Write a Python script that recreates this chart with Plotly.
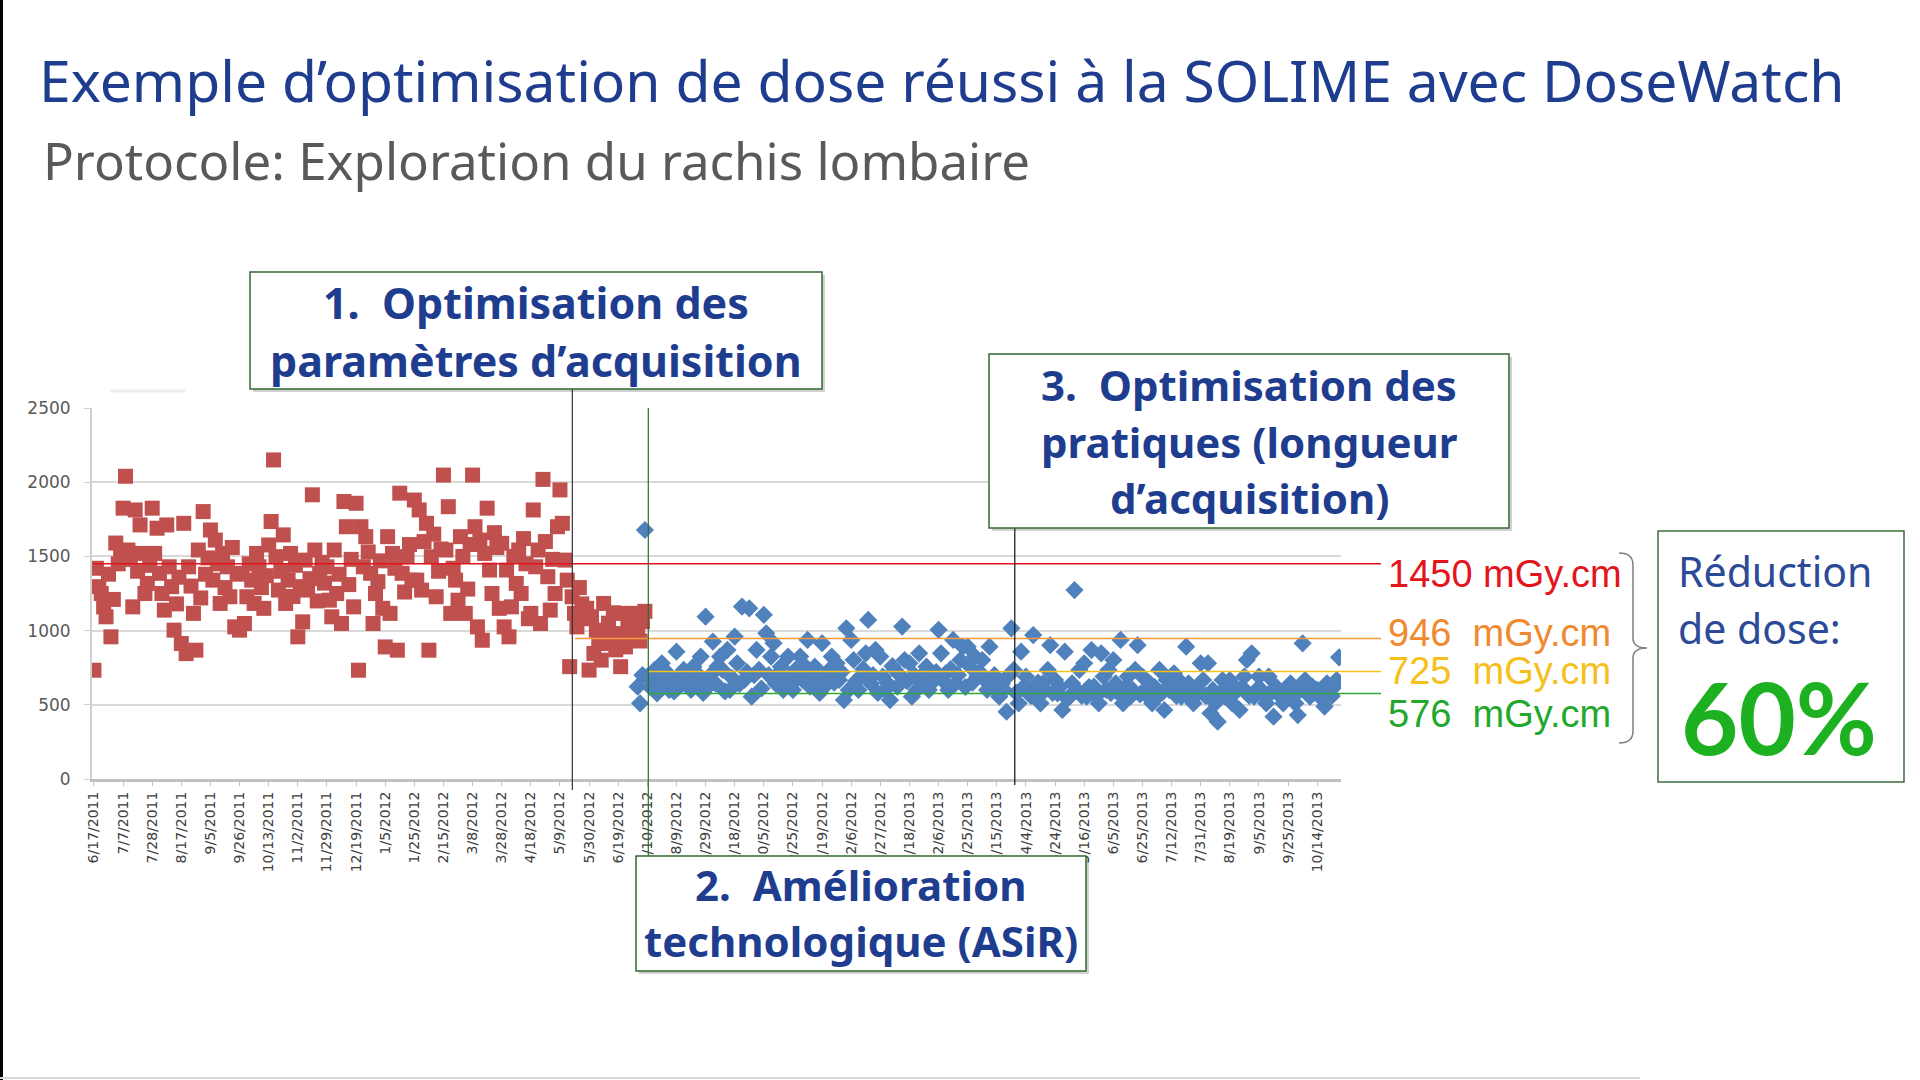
import plotly.graph_objects as go

# ---------------- data ----------------
tick_labels = ["6/17/2011", "7/7/2011", "7/28/2011", "8/17/2011", "9/5/2011", "9/26/2011",
               "10/13/2011", "11/2/2011", "11/29/2011", "12/19/2011", "1/5/2012", "1/25/2012",
               "2/15/2012", "3/8/2012", "3/28/2012", "4/18/2012", "5/9/2012", "5/30/2012",
               "6/19/2012", "7/10/2012", "8/9/2012", "8/29/2012", "9/18/2012", "10/5/2012",
               "10/25/2012", "11/19/2012", "12/6/2012", "12/27/2012", "1/18/2013", "2/6/2013",
               "2/25/2013", "3/15/2013", "4/4/2013", "4/24/2013", "5/16/2013", "6/5/2013",
               "6/25/2013", "7/12/2013", "7/31/2013", "8/19/2013", "9/5/2013", "9/25/2013",
               "10/14/2013"]
points_per_label = 12

# DLP before optimisation (mGy.cm), red squares
dlp_before = [
    733, 1420, 1296, 1250, 1160, 1093, 1380, 958, 1210, 1590, 1450, 1520,
    1825, 2040, 1543, 1480, 1160, 1813, 1400, 1712, 1520, 1250, 1318, 1440,
    1825, 1520, 1690, 1386, 1250, 1138, 1712, 1430, 1296, 1003, 1180, 1360,
    913, 1723, 845, 1430, 1300, 1116, 868, 1543, 1220, 1802, 1380, 1490,
    1678, 1340, 1610, 1450, 1183, 1520, 1290, 1430, 1228, 1560, 1025, 1380,
    1003, 1386, 1048, 1228, 1450, 1340, 1183, 1520, 1430, 1290, 1150, 1370,
    1577, 1735, 2150, 1498, 1273, 1400, 1645, 1183, 1340, 1520, 1230, 1440,
    958, 1296, 1059, 1475, 1273, 1350, 1915, 1543, 1200, 1386, 1460, 1320,
    1430, 1205, 1093, 1543, 1250, 1380, 1048, 1870, 1700, 1310, 1480, 1160,
    1858, 733, 1700, 1430, 1633, 1530, 1386, 1048, 1250, 1330, 1470, 1150,
    890, 1633, 1116, 1520, 1420, 868, 1926, 1386, 1260, 1498, 1580, 1340,
    1880, 1340, 1813, 1273, 1600, 1723, 868, 1498, 1650, 1228, 1400, 1550,
    2048, 1543, 1835, 1116, 1420, 1340, 1205, 1633, 1500, 1116, 1280, 1580,
    2048, 1700, 1025, 1610, 935, 1520, 1825, 1408, 1250, 1660, 1560, 1150,
    1588, 1025, 1408, 958, 1160, 1500, 1318, 1543, 1250, 1620, 1450, 1080,
    1116, 1813, 1430, 1543, 1048, 2019, 1600, 1363, 1138, 1480, 1250, 1700,
    1948, 1723, 1475, 1340, 757, 1228, 1116, 1025, 1290, 1180, 1080, 1150,
    734, 1093, 846, 1003, 935, 801, 1183, 913, 1050, 960, 1120, 870,
    980, 757, 1116, 890, 1048, 958, 1116, 1093, 1000, 930, 1060, 1130,
]
blue_start_index = 224
# DLP after optimisation (mGy.cm), blue diamonds
dlp_after = [
    622, 510, 700, 1678,
    690, 622, 700, 735, 577, 650, 780, 645, 720, 600, 667, 590,
    858, 622, 700, 735, 690, 640, 600, 757, 720, 667, 825, 580,
    1094, 622, 700, 926, 645, 760, 825, 735, 590, 870, 600, 680,
    960, 780, 640, 1162, 667, 720, 1150, 555, 700, 870, 735, 610,
    1106, 982, 700, 825, 915, 640, 712, 757, 600, 645, 825, 690,
    600, 735, 680, 825, 667, 760, 937, 622, 700, 757, 690, 580,
    915, 622, 700, 735, 825, 650, 780, 667, 720, 532, 1016, 600,
    937, 802, 660, 600, 690, 740, 847, 1072, 645, 700, 870, 580,
    825, 690, 600, 645, 532, 760, 735, 622, 700, 1027, 802, 660,
    780, 555, 700, 600, 847, 650, 712, 757, 600, 645, 667, 720,
    1005, 847, 660, 712, 600, 740, 937, 645, 700, 802, 892, 620,
    892, 757, 650, 825, 690, 720, 802, 667, 600, 892, 622, 700,
    667, 555, 640, 600, 453, 700, 1015, 735, 580, 510, 858, 620,
    690, 600, 560, 970, 555, 650, 510, 645, 600, 735, 902, 580,
    667, 577, 620, 465, 858, 540, 555, 645, 1273, 600, 735, 560,
    780, 555, 620, 869, 622, 560, 510, 847, 690, 600, 735, 580,
    802, 645, 580, 937, 510, 620, 690, 555, 600, 735, 902, 570,
    690, 600, 560, 645, 510, 620, 555, 735, 580, 465, 667, 600,
    622, 712, 560, 667, 555, 600, 892, 645, 540, 510, 600, 580,
    780, 667, 560, 780, 443, 600, 510, 386, 580, 667, 555, 620,
    667, 510, 580, 600, 465, 620, 690, 802, 560, 847, 555, 600,
    690, 600, 560, 510, 690, 580, 420, 622, 600, 555, 510, 580,
    577, 645, 560, 510, 431, 600, 914, 667, 580, 555, 622, 600,
    600, 555, 580, 488, 645, 620, 560, 622, 667, 820,
]
ref_levels = [1450, 946, 725, 576]
ref_labels = ["1450 mGy.cm", "946\u00a0 mGy.cm", "725\u00a0 mGy.cm", "576\u00a0 mGy.cm"]
phase_breaks = [197.1, 228.4, 379.4]   # sample index where each action started

# ---------------- layout helpers (pixel -> paper) ----------------
W, H = 1920, 1080
L, R, T, B = 92, 1341, 408, 779


def px(X):
    return (X - L) / (R - L)


def py(Y):
    return (B - Y) / (B - T)


BLUE_TXT = "#1F3D8F"
BOX_LINE = "#2E6A30"
RED_C = "#C0504D"
BLUE_C = "#4F81BD"
GE_FONT = "Noto Sans"

x_before = list(range(len(dlp_before)))
x_after = list(range(blue_start_index, blue_start_index + len(dlp_after)))
tickvals = [i * points_per_label for i in range(len(tick_labels))]

fig = go.Figure()
fig.add_trace(go.Scatter(x=x_before, y=dlp_before, mode="markers",
                         marker=dict(symbol="square", size=15, color=RED_C, line=dict(width=0)),
                         showlegend=False, hoverinfo="y"))
fig.add_trace(go.Scatter(x=x_after, y=dlp_after, mode="markers",
                         marker=dict(symbol="diamond", size=14, color=BLUE_C, line=dict(width=0)),
                         showlegend=False, hoverinfo="y"))

shapes = []
# reference lines (x in paper, y in data)
ref_colors = ["#E3141B", "#F39A3C", "#F7C21B", "#2FA83A"]
ref_x0 = [px(93), px(575), px(648), px(648)]
for lvl, c, x0 in zip(ref_levels, ref_colors, ref_x0):
    shapes.append(dict(type="line", xref="paper", yref="y", x0=x0, x1=px(1381), y0=lvl, y1=lvl,
                       line=dict(color=c, width=1.5), layer="above"))
# vertical phase lines (x in data, y in paper)
shapes.append(dict(type="line", xref="x", yref="paper", x0=phase_breaks[0], x1=phase_breaks[0],
                   y0=py(389), y1=py(790), line=dict(color="#333333", width=1.2), layer="above"))
shapes.append(dict(type="line", xref="x", yref="paper", x0=phase_breaks[1], x1=phase_breaks[1],
                   y0=py(408), y1=py(856), line=dict(color="#2E6A30", width=1.2), layer="above"))
shapes.append(dict(type="line", xref="x", yref="paper", x0=phase_breaks[2], x1=phase_breaks[2],
                   y0=py(528), y1=py(785), line=dict(color="#111111", width=1.2), layer="above"))


def box(x0, y0, x1, y1, line_color=BOX_LINE, shadow=True):
    if shadow:
        shapes.append(dict(type="rect", xref="paper", yref="paper", x0=px(x0 + 3), x1=px(x1 + 3),
                           y0=py(y0 + 3), y1=py(y1 + 3), fillcolor="rgba(0,0,0,0.18)",
                           line=dict(width=0), layer="above"))
    shapes.append(dict(type="rect", xref="paper", yref="paper", x0=px(x0), x1=px(x1),
                       y0=py(y0), y1=py(y1), fillcolor="white",
                       line=dict(color=line_color, width=1.5), layer="above"))


box(250, 272, 822, 389)
box(636, 856, 1086, 971)
box(989, 354, 1509, 528)
box(1658, 531, 1904, 782, line_color="#3C6E3C", shadow=False)

# brace
bx0, bxm, bx1 = 1619, 1633, 1647
by0, bym, by1 = 553, 648, 743
path = (f"M {px(bx0)},{py(by0)} Q {px(bxm)},{py(by0)} {px(bxm)},{py(by0 + 12)} "
        f"L {px(bxm)},{py(bym - 10)} Q {px(bxm)},{py(bym)} {px(bx1)},{py(bym)} "
        f"Q {px(bxm)},{py(bym)} {px(bxm)},{py(bym + 10)} "
        f"L {px(bxm)},{py(by1 - 12)} Q {px(bxm)},{py(by1)} {px(bx0)},{py(by1)}")
shapes.append(dict(type="path", xref="paper", yref="paper", path=path,
                   line=dict(color="#7F7F7F", width=1.5), layer="above"))

# slide borders / faint remnants
shapes.append(dict(type="line", xref="paper", yref="paper", x0=px(1.5), x1=px(1.5), y0=py(0), y1=py(1080),
                   line=dict(color="#000000", width=3), layer="above"))
shapes.append(dict(type="line", xref="paper", yref="paper", x0=px(0), x1=px(1640), y0=py(1078), y1=py(1078),
                   line=dict(color="#D8D8D8", width=2), layer="above"))
shapes.append(dict(type="line", xref="paper", yref="paper", x0=px(110), x1=px(185), y0=py(391), y1=py(391),
                   line=dict(color="#EDEDED", width=3), layer="below"))

ann = []


def text(X, Y, s, size, color, family=GE_FONT, anchor="center", bold=False):
    if bold:
        s = f"<b>{s}</b>"
    ann.append(dict(xref="paper", yref="paper", x=px(X), y=py(Y), text=s, showarrow=False,
                    xanchor=anchor, yanchor="middle", font=dict(size=size, color=color, family=family)))


text(37, 80, "Exemple d\u2019optimisation de dose réussi à la SOLIME avec DoseWatch", 57, BLUE_TXT, anchor="left")
text(41, 160, "Protocole: Exploration du rachis lombaire", 51, "#595959", anchor="left")

text(536, 302, "1.\u00a0 Optimisation des", 43, BLUE_TXT, bold=True)
text(536, 360, "paramètres d\u2019acquisition", 43, BLUE_TXT, bold=True)
text(861, 884, "2.\u00a0 Amélioration", 42, BLUE_TXT, bold=True)
text(861, 940, "technologique (ASiR)", 42, BLUE_TXT, bold=True)
text(1249, 384, "3.\u00a0 Optimisation des", 42, BLUE_TXT, bold=True)
text(1249, 441, "pratiques (longueur", 42, BLUE_TXT, bold=True)
text(1249, 497, "d\u2019acquisition)", 42, BLUE_TXT, bold=True)

text(1676, 571, "Réduction", 41, "#2B4A97", anchor="left")
text(1676, 628, "de dose:", 41, "#2B4A97", anchor="left")
text(1779, 716, "60%", 99, "#1DB020", family="Lato", bold=True)

label_colors = ["#E3141B", "#F08A30", "#F5C01A", "#22A82C"]
for lab, c, yy in zip(ref_labels, label_colors, [574, 633, 671, 714]):
    text(1386, yy, lab, 38, c, family="Liberation Sans", anchor="left")

fig.update_layout(
    width=W, height=H, autosize=False,
    margin=dict(l=L, r=W - R, t=T, b=H - B, pad=0),
    paper_bgcolor="white", plot_bgcolor="white",
    shapes=shapes, annotations=ann,
    xaxis=dict(range=[-0.8, 513.8], tickmode="array", tickvals=tickvals, ticktext=tick_labels,
               tickangle=-90, showgrid=False, zeroline=False, showline=True, linecolor="#BFBFBF",
               linewidth=3, ticks="outside", ticklen=4, tickcolor="#BFBFBF",
               tickfont=dict(family="DejaVu Sans", size=14, color="#404040")),
    yaxis=dict(range=[0, 2500], dtick=500, showgrid=True, gridcolor="#D9D9D9", gridwidth=2,
               zeroline=False, showline=True, linecolor="#D0D0D0", linewidth=2,
               ticks="outside", ticklen=6, tickcolor="#D0D0D0", ticklabelstandoff=10,
               tickfont=dict(family="DejaVu Sans", size=17, color="#595959")),
)

fig.write_html("out.html", config={"displayModeBar": False},
               post_script="document.body.style.margin='0';")
